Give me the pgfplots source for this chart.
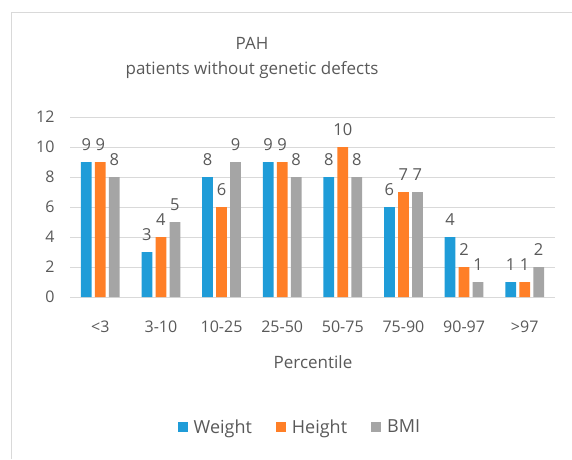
\documentclass[border=0pt]{standalone}
\usepackage{pgfplots}
\pgfplotsset{compat=1.18}
\usepackage{fontspec}
\setmainfont{Open Sans}
\definecolor{cblue}{HTML}{1F9CD8}
\definecolor{corange}{HTML}{FF7F27}
\definecolor{cgray}{HTML}{A5A5A5}
\definecolor{txt}{HTML}{595959}
\definecolor{grid}{HTML}{D9D9D9}
\begin{document}
\begin{tikzpicture}
\useasboundingbox (0pt,0pt) rectangle (572pt,-459pt);
\draw[grid, line width=1pt] (11pt,-459pt) -- (11pt,-12pt) -- (572pt,-12pt);
\begin{axis}[
  at={(70pt,-297pt)}, anchor=south west,
  scale only axis, width=485pt, height=180pt,
  xmin=-0.5, xmax=7.5, ymin=0, ymax=12,
  ytick={0,2,...,12},
  xtick={0,...,7},
  xticklabels={{<3},{3-10},{10-25},{25-50},{50-75},{75-90},{90-97},{>97}},
  ymajorgrids, xmajorgrids=false,
  grid style={draw=grid, line width=0.8pt},
  axis x line*=bottom, axis y line*=left,
  x axis line style={draw=grid, line width=1pt, -},
  y axis line style={draw=none},
  major tick length=0pt,
  tick label style={font=\fontsize{16}{18}\selectfont, text=txt},
  /pgf/number format/assume math mode=true,
  yticklabel style={xshift=-12pt},
  xticklabel style={yshift=-20pt},
  ybar, bar width=10.7pt,
  nodes near coords,
  every node near coord/.append style={font=\fontsize{16.5}{18}\selectfont, text=txt, yshift=8pt},
  legend columns=3,
  legend style={at={(0.474,-0.722)}, anchor=center, draw=none, fill=none,
    font=\fontsize{18}{20}\selectfont, text=txt,
    /tikz/every odd column/.append style={column sep=4pt},
    /tikz/every even column/.append style={column sep=22pt}},
  legend image code/.code={\fill[#1] (0pt,-5pt) rectangle (10pt,5pt);},
  clip=false,
]
\addplot[fill=cblue, draw=none, bar shift=-14pt] coordinates {(0,9) (1,3) (2,8) (3,9) (4,8) (5,6) (6,4) (7,1)};
\addplot[fill=corange, draw=none, bar shift=0pt] coordinates {(0,9) (1,4) (2,6) (3,9) (4,10) (5,7) (6,2) (7,1)};
\addplot[fill=cgray, draw=none, bar shift=14pt] coordinates {(0,8) (1,5) (2,9) (3,8) (4,8) (5,7) (6,1) (7,2)};
\legend{Weight,Height,BMI}
\end{axis}
\node[text=txt, font=\fontsize{17}{19}\selectfont] at (252pt,-43pt) {PAH};
\node[text=txt, font=\fontsize{17}{19}\selectfont] at (252pt,-70pt) {patients without genetic defects};
\node[text=txt, font=\fontsize{17}{19}\selectfont] at (313pt,-362pt) {Percentile};
\end{tikzpicture}
\end{document}
